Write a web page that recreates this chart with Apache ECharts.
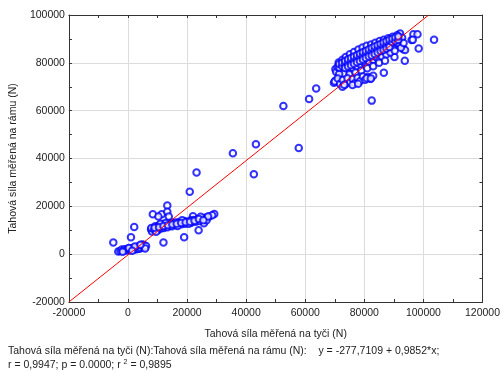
<!DOCTYPE html>
<html>
<head>
<meta charset="utf-8">
<script src="https://cdn.jsdelivr.net/npm/echarts@6/dist/echarts.min.js"></script>
<style>
html,body{margin:0;padding:0;background:#fff;}
#c{width:503px;height:372px;}
</style>
</head>
<body>
<div id="c"></div>
<script>
// ---- data ----
const xAxisTitle = 'Tahová síla měřená na tyči (N)';
const yAxisTitle = 'Tahová síla měřená na rámu (N)';
const statLine1 = 'Tahová síla měřená na tyči (N):Tahová síla měřená na rámu (N):    y = -277,7109 + 0,9852*x;';

const lowCluster = [
  [-4980,4900],[1000,7100],[2100,11400],[-3300,1100],
  [-2600,1300],[-2100,1900],[-1600,1400],[-1100,2100],[-600,1600],[-100,2300],[100,1500],
  [600,2000],[1100,2500],[900,1700],[1600,2200],[2100,2700],[1900,1900],[2600,2400],
  [3100,2900],[2900,2100],[3600,3300],[3400,2500],[4100,3000],[3900,2300],[4600,3600],
  [4400,2700],[5100,3200],[4900,4000],[5600,2900],[5400,3800],[6100,3400],[5800,2400],
  [-1800,1000],[300,2600],[2300,3200],[4200,3900],[1400,1400]
];
const midCluster = [
  [8400,16700],[11400,16700],[10300,15700],[13300,20300],[13300,17700],[13800,15700],
  [7800,10400],[12000,4900],[19000,7100],[20900,26100],[23200,34100],[23900,10000],
  [22000,15900],[25700,12900],[29200,16800],[27500,15700],[28500,16300],[26500,15300],
  [8100,9500],[7900,10900],[8900,10300],[9200,11700],[10100,10000],[9800,11200],
  [10600,12100],[11100,10700],[11400,11900],[12100,10900],[11900,12600],[12600,11600],
  [13100,12400],[13400,11300],[14100,12700],[14400,11900],[15100,13100],[14900,11700],
  [15600,12500],[16100,13200],[16400,12100],[17100,12900],[17400,13500],[18100,12500],
  [18600,13300],[19100,13900],[19400,12700],[20100,13500],[21100,14100],[21400,13100],
  [22100,14300],[22900,13600],[23600,14600],[24100,13900],[25100,14900],[25900,15100],
  [26600,14200],[27100,15700],[9500,9400],[11000,12700],[12800,13000],[16800,11800],
  [20600,12700],[24600,15600],[18300,14200],
  [9000,11000],[10500,11300],[12000,11800],[13500,12100],[15000,12400],[16500,12700],
  [18000,13000],[19500,13300],[21000,13600],[22500,14000],[24000,14700],[25500,14200]
];
const scattered = [
  [35500,42200],[43300,46000],[42600,33400],[52600,62000],[57800,44400],
  [61300,64900],[63700,69300]
];
const highCluster = [
  [82500,64200],[103600,89700],[98400,86000],[93700,80900],[86600,75900],[96600,92000],
  [98000,92000],[91600,91400],[69700,71700],[70200,72500],[70200,77300],[90200,82400],
  [93200,85700],[96000,89500],[93800,85400],[92100,92300],[96400,89600],
  [70500,76200],[70900,78300],[71300,80100],[71800,77400],[72200,79200],[72600,81300],
  [72900,77900],[73300,80600],[73700,82400],[74100,78800],[74400,76900],[74800,81700],
  [75100,83600],[75400,79700],[75800,77800],[76200,82300],[76500,84500],[76900,80400],
  [77300,78600],[77600,83100],[78000,85600],[78300,81200],[78700,79300],[79000,84200],
  [79400,86400],[79800,82000],[80100,79900],[80500,85000],[80800,87100],[81200,82800],
  [81500,80600],[81900,85800],[82300,87700],[82600,83500],[83000,81300],[83300,86400],
  [83700,88400],[84100,84200],[84400,82000],[84800,87000],[85200,89100],[85500,85000],
  [85900,82700],[86300,87600],[86600,89700],[87000,85600],[87400,83500],[87700,88200],
  [88100,90300],[88500,86300],[88800,84300],[89200,88700],[89600,90900],[90000,87000],
  [90300,85100],[90700,89300],[91100,91500],[91500,87700],[92000,89800],[92400,86300],
  [92800,90500],[93300,88300],
  [73000,75500],[75000,75200],[77000,76000],[79000,76800],[81000,77700],[83000,78600],
  [85000,80000],[87000,80900],[71500,75300],[76000,80500],[78000,82500],[80000,84000],
  [82000,84800],[84000,86000],[86000,86800],[88000,88000],[90000,88500],[74500,80200],
  [79500,80700],[83500,82800],[87500,86700],[91000,88400],
  [71500,78000],[71500,79500],[72500,78700],[72500,80000],[73500,79300],[73500,80800],
  [73500,77800],[74500,80000],[74500,81500],[74500,78500],[75500,80500],[75500,82000],
  [75500,79000],[76500,81000],[76500,82600],[76500,79600],[77500,81700],[77500,83200],
  [77500,80200],[78500,82300],[78500,83800],[78500,80800],[79500,82800],[79500,84400],
  [79500,81400],[80500,83400],[80500,85000],[80500,82000],[81500,84000],[81500,85600],
  [81500,82600],[82500,84600],[82500,86200],[82500,83100],[83500,85200],[83500,86800],
  [83500,83700],[84500,85700],[84500,87300],[84500,84300],[85500,86300],[85500,87900],
  [85500,84900],[86500,86900],[86500,88500],[86500,85400],[87500,87400],[87500,89000],
  [87500,86000],[88500,88000],[88500,89600],[88500,86600],[89500,88600],[89500,90100],
  [90500,89100],[90500,90600],[91500,89700],[91500,91000],
  [70000,72200],[71000,73400],[71800,71200],[72700,72800],[73500,70900],[74300,73600],
  [75200,71800],[76100,73200],[76800,71500],[77700,73800],[78600,72400],[79500,74300],
  [80300,72900],[81200,74100],[82100,73300],[83000,74600],[72600,70000],[76000,70700],
  [73200,70800],[77900,71300],[80800,73600],[82200,73500]
];
const fitLine = [[-20000,-19982],[101784,100000]];

const xTicks = { min: -20000, max: 120000, interval: 20000 };
const yTicks = { min: -20000, max: 100000, interval: 20000 };

// ---- chart ----
const points = [].concat(lowCluster, midCluster, scattered, highCluster);
const font = 'Liberation Sans, Arial, sans-serif';
const plain = v => String(v);
const axisCommon = {
  axisLine: { show: true, onZero: false, lineStyle: { color: '#333', width: 1 } },
  axisTick: { show: true, inside: true, length: 3, lineStyle: { color: '#333' } },
  minorTick: { show: true, splitNumber: 2, length: 3, lineStyle: { color: '#333' } },
  splitLine: { show: false }
};
const chart = echarts.init(document.getElementById('c'), null, { renderer: 'canvas' });
chart.setOption({
  backgroundColor: '#fff',
  animation: false,
  grid: { left: 66, right: 18, top: 15, bottom: 70, show: false },
  xAxis: [
    Object.assign({}, axisCommon, {
      type: 'value', position: 'bottom', min: xTicks.min, max: xTicks.max, interval: xTicks.interval,
      splitLine: { show: true, lineStyle: { color: '#dcdcdc', width: 1 } },
      axisLabel: { color: '#222', fontSize: 10.5, fontFamily: font, margin: 6, formatter: plain },
      name: xAxisTitle, nameLocation: 'middle', nameGap: 27,
      nameTextStyle: { color: '#222', fontSize: 10.5, fontFamily: font }
    }),
    Object.assign({}, axisCommon, {
      type: 'value', position: 'top', min: xTicks.min, max: xTicks.max, interval: xTicks.interval,
      axisLabel: { show: false }
    })
  ],
  yAxis: [
    Object.assign({}, axisCommon, {
      type: 'value', position: 'left', min: yTicks.min, max: yTicks.max, interval: yTicks.interval,
      splitLine: { show: true, lineStyle: { color: '#dcdcdc', width: 1 } },
      axisLabel: { color: '#222', fontSize: 10.5, fontFamily: font, margin: 4, formatter: plain },
      name: yAxisTitle, nameLocation: 'middle', nameGap: 47,
      nameTextStyle: { color: '#222', fontSize: 10.5, fontFamily: font }
    }),
    Object.assign({}, axisCommon, {
      type: 'value', position: 'right', min: yTicks.min, max: yTicks.max, interval: yTicks.interval,
      axisLabel: { show: false }
    })
  ],
  series: [
    {
      type: 'scatter', xAxisIndex: 0, yAxisIndex: 0,
      symbol: 'emptyCircle', symbolSize: 6.5,
      itemStyle: { color: '#0000ff', borderColor: '#0000ff', borderWidth: 2 },
      data: points, z: 3
    },
    {
      type: 'line', xAxisIndex: 0, yAxisIndex: 0,
      data: fitLine, symbol: 'none',
      lineStyle: { color: '#ff0000', width: 1 }, z: 4
    }
  ],
  graphic: [
    { type: 'text', left: 8, top: 346,
      style: { text: statLine1, fill: '#222', font: '10.5px ' + font } },
    { type: 'text', left: 8, top: 359,
      style: {
        text: '{a|r = 0,9947; p = 0.0000; r }{s|2}{a| = 0,9895}',
        rich: {
          a: { fill: '#222', fontSize: 10.5, fontFamily: font },
          s: { fill: '#222', fontSize: 7, fontFamily: font, verticalAlign: 'top', padding: [0, 0, 5, 0] }
        }
      } }
  ]
});
</script>
</body>
</html>
